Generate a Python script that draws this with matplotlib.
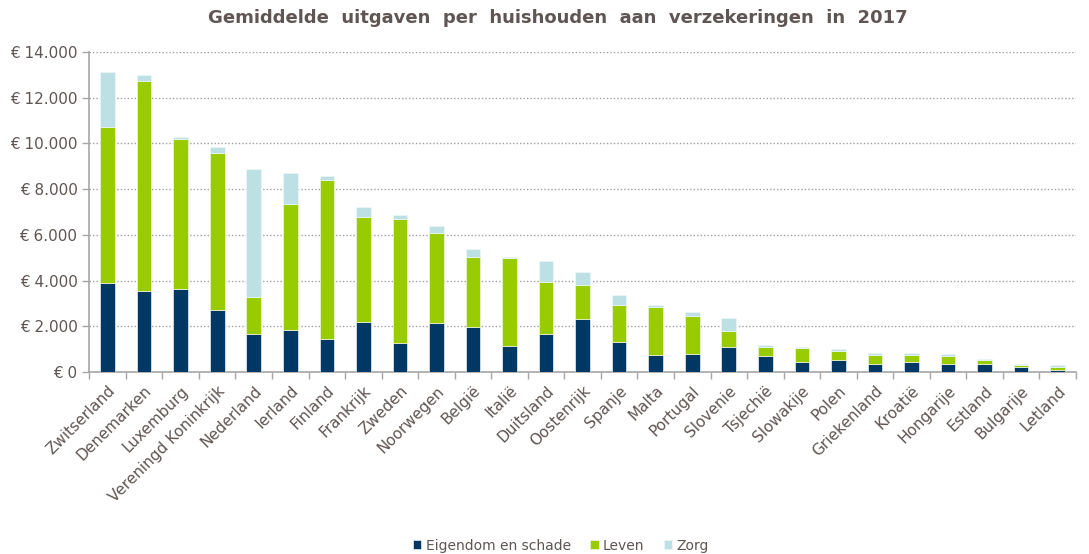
import numpy as np
import matplotlib.pyplot as plt
from matplotlib.ticker import FuncFormatter, FixedLocator

landen = ["Zwitserland", "Denemarken", "Luxemburg", "Vereningd Koninkrijk", "Nederland",
          "Ierland", "Finland", "Frankrijk", "Zweden", "Noorwegen", "België", "Italië",
          "Duitsland", "Oostenrijk", "Spanje", "Malta", "Portugal", "Slovenie", "Tsjechië",
          "Slowakije", "Polen", "Griekenland", "Kroatië", "Hongarije", "Estland",
          "Bulgarije", "Letland"]

# euro per huishouden
eigendom = [3900, 3550, 3650, 2730, 1680, 1850, 1430, 2200, 1260, 2140, 1960, 1140,
            1680, 2300, 1300, 750, 780, 1080, 700, 450, 525, 350, 450, 350, 350, 220, 100]
leven = [6800, 9200, 6550, 6840, 1620, 5520, 6990, 4590, 5420, 3960, 3070, 3840,
         2240, 1520, 1620, 2080, 1670, 700, 410, 600, 395, 390, 290, 350, 175, 70, 120]
zorg = [2430, 230, 80, 280, 5600, 1350, 140, 410, 170, 280, 360, 50,
        940, 570, 460, 90, 170, 600, 70, 50, 70, 80, 90, 70, 55, 60, 70]

kleur_eig = "#003865"
kleur_lev = "#99cc00"
kleur_zorg = "#bde0e4"
tekst = "#5f5552"
as_kleur = "#a6a6a6"

fig = plt.figure(figsize=(10.89, 5.54), dpi=100)
ax = fig.add_axes([0.082, 0.3285, 0.906, 0.5775])

x = np.arange(len(landen))
eig = np.array(eigendom)
lev = np.array(leven)
zrg = np.array(zorg)
w = 0.4
ax.bar(x, eig, w, color=kleur_eig, edgecolor="#e8eef2", linewidth=0.5, label="Eigendom en schade", zorder=3)
ax.bar(x, lev, w, bottom=eig, color=kleur_lev, edgecolor="#eef5dd", linewidth=0.5, label="Leven", zorder=3)
ax.bar(x, zrg, w, bottom=eig + lev, color=kleur_zorg, edgecolor="#eef7f8", linewidth=0.5, label="Zorg", zorder=3)

ax.set_xlim(-0.5, len(landen) - 0.5)
ax.set_ylim(0, 14000)
ax.set_yticks(np.arange(0, 14001, 2000))
ax.yaxis.set_major_formatter(FuncFormatter(lambda v, p: "€ " + f"{int(v):,}".replace(",", ".")))
ax.grid(axis="y", linestyle=(0, (1, 1.5)), color="#a0a0a0", linewidth=1, zorder=0)

ax.set_xticks(x)
ax.set_xticklabels(landen, rotation=45, ha="right", rotation_mode="anchor")
ax.xaxis.set_minor_locator(FixedLocator(np.arange(-0.5, len(landen), 1)))
ax.tick_params(axis="x", which="major", length=0, pad=8, labelsize=11, labelcolor=tekst)
ax.tick_params(axis="x", which="minor", length=5, width=1, color=as_kleur)
ax.tick_params(axis="y", length=5, width=1, color=as_kleur, labelsize=11, labelcolor=tekst)

for s in ["top", "right"]:
    ax.spines[s].set_visible(False)
for s in ["left", "bottom"]:
    ax.spines[s].set_color(as_kleur)
    ax.spines[s].set_linewidth(1.2)

fig.text(0.512, 0.967, "Gemiddelde  uitgaven  per  huishouden  aan  verzekeringen  in  2017",
         ha="center", va="center", fontsize=13, fontweight="bold", color=tekst)

fig.legend(loc="lower center", bbox_to_anchor=(0.515, -0.02), ncol=3, frameon=False,
           fontsize=10, labelcolor=tekst, handlelength=0.6, handleheight=0.6,
           handletextpad=0.3, columnspacing=1.4)

fig.savefig("out.png", dpi=100)
